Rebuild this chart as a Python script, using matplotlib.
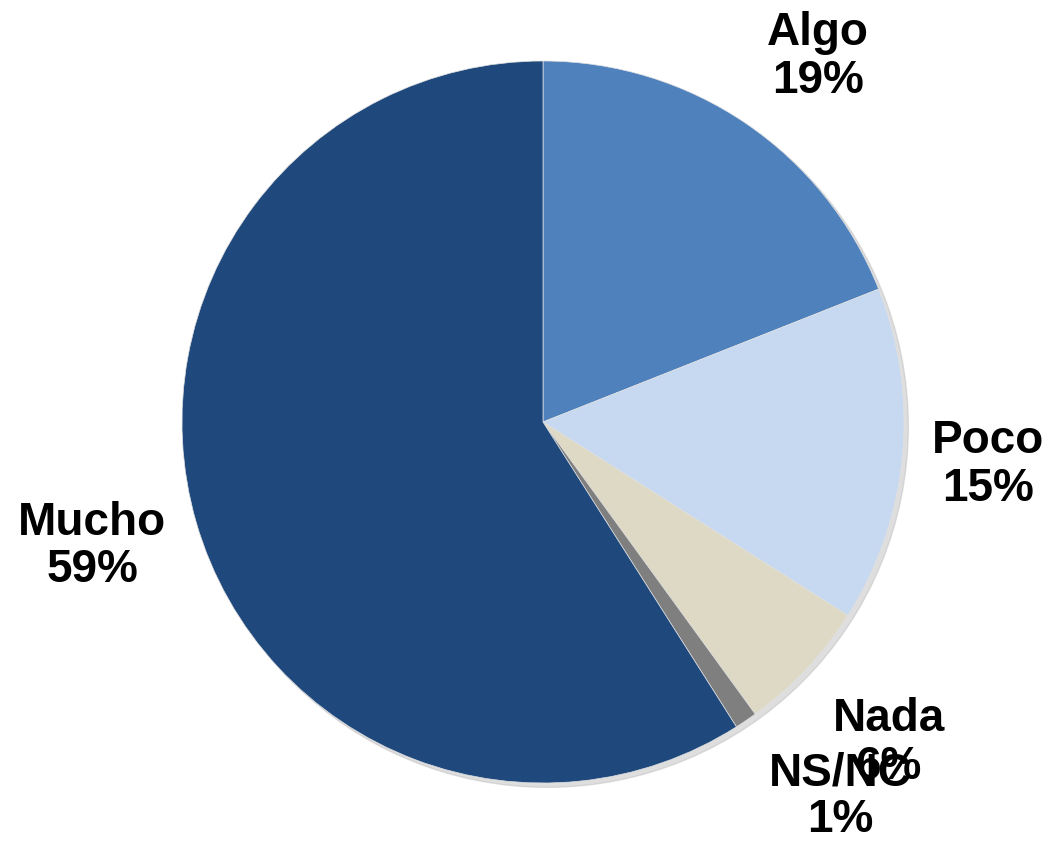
import matplotlib
matplotlib.use('Agg')
import matplotlib.pyplot as plt
import numpy as np

# data
categories = ['Algo', 'Poco', 'Nada', 'NS/NC', 'Mucho']
values = [19, 15, 6, 1, 59]
colors = ['#4F81BD', '#C6D9F1', '#DDD9C4', '#7F7F7F', '#1F497D']
# label placement: distance (in radii) and angle nudge (deg) from wedge middle
label_dist = [1.268, 1.238, 1.305, 1.323, 1.295]
label_nudge = [-2.7, 0.0, 0.4, 4.3, -0.9]

plt.rcParams['font.family'] = ['Liberation Sans', 'DejaVu Sans']

W, H = 1049, 845
fig = plt.figure(figsize=(W / 100, H / 100), dpi=100)

# pie centre and radius in pixels
cx, cy, r = 543, 423, 361
k = 1.5
half = r * k
ax = fig.add_axes([(cx - half) / W, (H - cy - half) / H, 2 * half / W, 2 * half / H])

wedges, _ = ax.pie(values, colors=colors, startangle=90, counterclock=False,
                   radius=1, wedgeprops=dict(linewidth=0.5, edgecolor='#e0e0e0'))

# faint shadow under the pie
shadow = plt.Circle((0.012, -0.012), 1.0, color='#bfbfbf', alpha=0.5, zorder=0)
ax.add_patch(shadow)

for w, name, v, d, nd in zip(wedges, categories, values, label_dist, label_nudge):
    ang = np.deg2rad((w.theta1 + w.theta2) / 2 + nd)
    ax.text(d * np.cos(ang), d * np.sin(ang), f'{name}\n{v}%',
            ha='center', va='center', fontsize=33, fontweight='bold',
            linespacing=1.1, clip_on=False)

ax.set_aspect('auto')
ax.set_xlim(-k, k)
ax.set_ylim(-k, k)
ax.axis('off')

fig.savefig('out.png', dpi=100)
